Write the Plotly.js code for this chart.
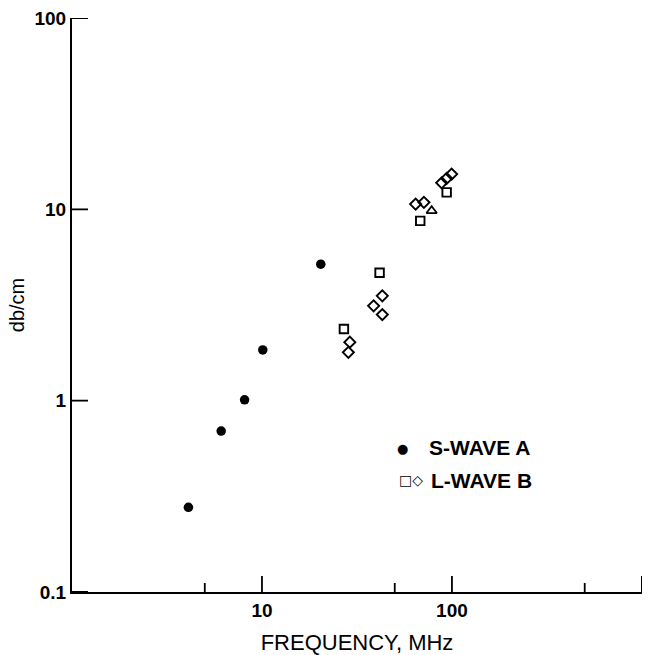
<!DOCTYPE html>
<html>
<head>
<meta charset="utf-8">
<script src="https://cdn.plot.ly/plotly-3.0.1.min.js"></script>
<style>html,body{margin:0;padding:0;background:#fff;}#chart{width:661px;height:655px;}</style>
</head>
<body>
<div id="chart"></div>
<script>
// S-wave A (filled circles)
var sWaveFreq  = [4.1, 6.1, 8.1, 10.1, 20.4];
var sWaveAtten = [0.277, 0.693, 1.01, 1.84, 5.17];

// L-wave B, squares
var lWaveSquareFreq  = [27.0, 41.6, 68.1, 93.8];
var lWaveSquareAtten = [2.37, 4.66, 8.71, 12.27];

// L-wave B, diamonds
var lWaveDiamondFreq  = [29.0, 28.5, 38.7, 43.0, 43.0, 64.4, 71.2, 88.3, 93.8, 99.6];
var lWaveDiamondAtten = [2.02, 1.79, 3.13, 3.53, 2.82, 10.66, 10.88, 13.77, 14.52, 15.29];

// L-wave B, triangle
var lWaveTriangleFreq  = [78.2];
var lWaveTriangleAtten = [9.83];

// tick labels
var xTickVals = [10, 100, 1000];
var xTickText = ["10", "100", "1000"];
var xMinorVals = [5, 50, 500];
var yTickVals = [0.1, 1, 10, 100];
var yTickText = ["0.1", "1", "10", "100"];

var FONT = "Liberation Sans, Arial, Helvetica, sans-serif";
var MARGIN = {l: 72, r: 19, t: 18, b: 63};
var W = 661, H = 655;
var plotW = W - MARGIN.l - MARGIN.r;
var plotH = H - MARGIN.t - MARGIN.b;

var traces = [
  {x: sWaveFreq, y: sWaveAtten, type: "scatter", mode: "markers", name: "S-WAVE A",
   marker: {symbol: "circle", size: 9.5, color: "#000"}},
  {x: lWaveSquareFreq, y: lWaveSquareAtten, type: "scatter", mode: "markers", name: "L-WAVE B",
   marker: {symbol: "square-open", size: 8.5, color: "#000", line: {width: 1.9}}},
  {x: lWaveDiamondFreq, y: lWaveDiamondAtten, type: "scatter", mode: "markers", name: "L-WAVE B",
   marker: {symbol: "diamond-open", size: 8.5, color: "#000", line: {width: 1.9}}},
  {x: lWaveTriangleFreq, y: lWaveTriangleAtten, type: "scatter", mode: "markers", name: "L-WAVE B",
   marker: {symbol: "triangle-up-open", size: 9, color: "#000", line: {width: 1.8}}}
];

// inward tick marks, placed at the tick values through the axis scales
var tickShapes = [];
function xTick(v, len) {
  tickShapes.push({type: "line", layer: "above", xref: "x", yref: "paper", x0: v, x1: v,
    y0: 0, y1: len / plotH, line: {color: "#000", width: 1.8}});
}
function yTick(v, len) {
  tickShapes.push({type: "line", layer: "above", xref: "paper", yref: "y", y0: v, y1: v,
    x0: 0, x1: len / plotW, line: {color: "#000", width: 1.8}});
}
xTickVals.forEach(function (v) { xTick(v, 16); });
xMinorVals.forEach(function (v) { xTick(v, 9); });
yTickVals.forEach(function (v) { yTick(v, 16); });

var layout = {
  width: W, height: H,
  margin: MARGIN,
  paper_bgcolor: "#fff", plot_bgcolor: "#fff",
  showlegend: false,
  font: {family: FONT, color: "#000"},
  xaxis: {
    type: "log", range: [0, 3.0005],
    showline: true, linecolor: "#000", linewidth: 2,
    showgrid: false, zeroline: false,
    tickmode: "array", tickvals: xTickVals, ticktext: xTickText,
    ticks: "",
    tickfont: {size: 19, family: FONT, color: "#000", weight: "bold"},
    title: {text: "FREQUENCY, MHz", font: {size: 22, family: FONT, color: "#000"}, standoff: 22},
    automargin: false
  },
  yaxis: {
    type: "log", range: [-1.0005, 2.0005],
    showline: true, linecolor: "#000", linewidth: 2,
    showgrid: false, zeroline: false,
    tickmode: "array", tickvals: yTickVals, ticktext: yTickText,
    ticks: "",
    tickfont: {size: 19, family: FONT, color: "#000", weight: "bold"},
    title: {text: "db/cm", font: {size: 20, family: FONT, color: "#000"}, standoff: 4},
    automargin: false
  },
  shapes: tickShapes,
  annotations: [
    {xref: "paper", yref: "paper", x: (402 - 72) / 570, y: (591.7 - 448) / 573.7,
     text: "●", showarrow: false, xanchor: "center", yanchor: "middle",
     font: {size: 13, family: "DejaVu Sans", color: "#000"}},
    {xref: "paper", yref: "paper", x: (427 - 72) / 570, y: (591.7 - 447) / 573.7,
     text: "S-WAVE A", showarrow: false, xanchor: "left", yanchor: "middle",
     font: {size: 21, family: FONT, color: "#000", weight: "bold"}},
    {xref: "paper", yref: "paper", x: (425 - 72) / 570, y: (591.7 - 480) / 573.7,
     text: "□◇", showarrow: false, xanchor: "right", yanchor: "middle",
     font: {size: 14, family: "DejaVu Sans", color: "#000"}},
    {xref: "paper", yref: "paper", x: (429 - 72) / 570, y: (591.7 - 480) / 573.7,
     text: "L-WAVE B", showarrow: false, xanchor: "left", yanchor: "middle",
     font: {size: 21, family: FONT, color: "#000", weight: "bold"}}
  ]
};

Plotly.newPlot("chart", traces, layout, {displayModeBar: false, staticPlot: true});
</script>
</body>
</html>
